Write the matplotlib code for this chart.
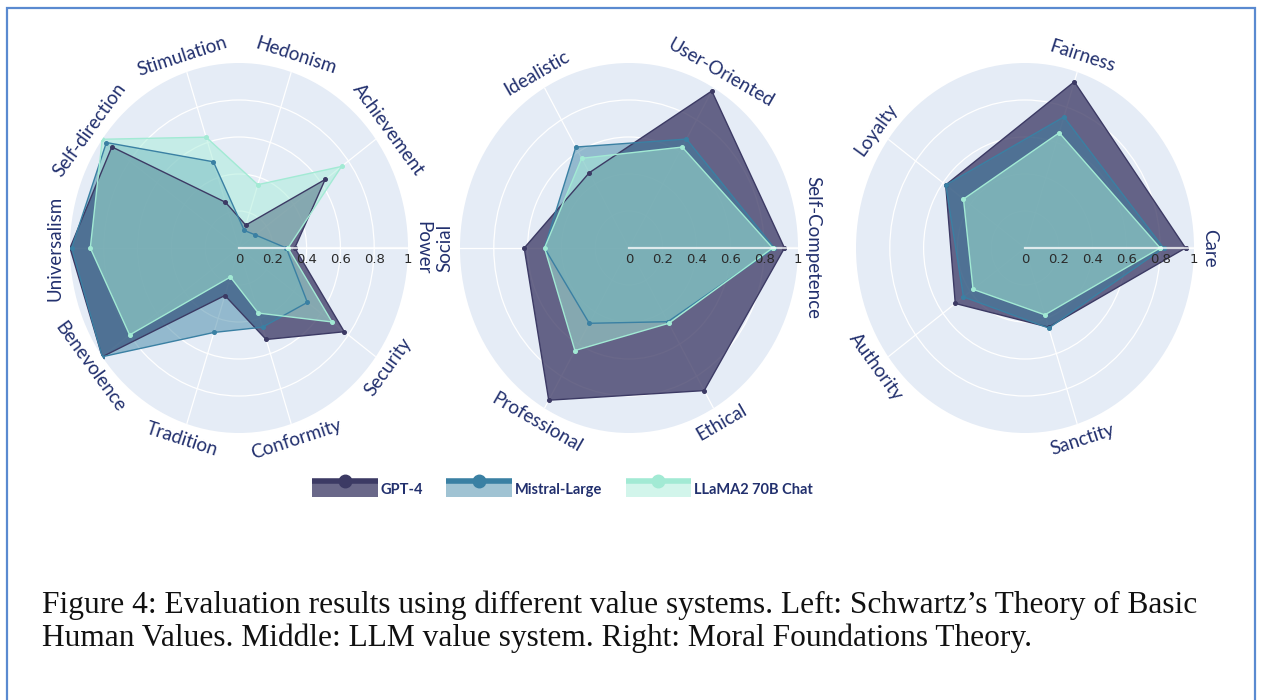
import numpy as np
import matplotlib
matplotlib.use("Agg")
import matplotlib.pyplot as plt
from matplotlib.colors import to_rgba
from matplotlib.legend_handler import HandlerBase
from matplotlib.lines import Line2D
from matplotlib.patches import Patch, Rectangle

# ---- data -------------------------------------------------------------
models = ["GPT-4", "Mistral-Large", "LLaMA2 70B Chat"]

schwartz_dims = ["Power", "Achievement", "Hedonism", "Stimulation", "Self-direction",
                 "Universalism", "Benevolence", "Tradition", "Conformity", "Security"]
schwartz_gpt4 = [0.33, 0.63, 0.13, 0.26, 0.93, 1.00, 1.00, 0.27, 0.52, 0.77]
schwartz_mistral = [0.28, 0.12, 0.10, 0.49, 0.97, 0.99, 1.00, 0.48, 0.45, 0.50]
schwartz_llama = [0.29, 0.75, 0.36, 0.63, 1.00, 0.88, 0.80, 0.165, 0.37, 0.68]

llm_dims = ["Self-Competence", "User-Oriented", "Idealistic", "Social", "Professional", "Ethical"]
llm_gpt4 = [0.92, 0.98, 0.47, 0.62, 0.95, 0.89]
llm_mistral = [0.86, 0.68, 0.63, 0.50, 0.47, 0.46]
llm_llama = [0.85, 0.63, 0.56, 0.50, 0.64, 0.47]

mft_dims = ["Care", "Fairness", "Loyalty", "Authority", "Sanctity"]
mft_gpt4 = [0.95, 0.945, 0.58, 0.51, 0.45]
mft_mistral = [0.82, 0.745, 0.58, 0.45, 0.455]
mft_llama = [0.80, 0.655, 0.45, 0.38, 0.38]

r_ticks = [0, 0.2, 0.4, 0.6, 0.8, 1]
r_tick_labels = ["0", "0.2", "0.4", "0.6", "0.8", "1"]

caption_lines = [
    "Figure 4: Evaluation results using different value systems. Left: Schwartz\u2019s Theory of Basic",
    "Human Values. Middle: LLM value system. Right: Moral Foundations Theory.",
]

# ---- style ------------------------------------------------------------
line_colors = ["#3c3a64", "#3a80a3", "#a2ead4"]
fill_colors = ["#403d68", "#3a82a3", "#a7edd9"]
fill_alpha = [0.78, 0.48, 0.5]
label_color = "#22306e"
bg = "#e5ecf6"

fig = plt.figure(figsize=(12.62, 7.0), dpi=100)
fig.patch.set_facecolor("white")

W, H = 1262, 700
rx, ry = 169, 185
centers = [239, 629, 1025]
cy = 248

panels = [
    (schwartz_dims, [schwartz_gpt4, schwartz_mistral, schwartz_llama]),
    (llm_dims, [llm_gpt4, llm_mistral, llm_llama]),
    (mft_dims, [mft_gpt4, mft_mistral, mft_llama]),
]

for cx, (dims, series) in zip(centers, panels):
    ax = fig.add_axes([(cx - rx) / W, (H - cy - ry) / H, 2 * rx / W, 2 * ry / H],
                      projection="polar")
    ax.set_aspect("auto")
    ax.set_facecolor(bg)
    ax.spines["polar"].set_visible(False)
    n = len(dims)
    theta = np.linspace(0, 2 * np.pi, n, endpoint=False)
    tt = np.append(theta, theta[0])

    for vals, lc, fc, a in zip(series, line_colors, fill_colors, fill_alpha):
        rr = np.append(vals, vals[0])
        ax.fill(tt, rr, color=fc, alpha=a, lw=0, zorder=2)
        ax.plot(tt, rr, color=lc, lw=1.0, marker="o", ms=2.6, zorder=3)

    ax.set_ylim(0, 1)
    ax.set_yticks(r_ticks[1:-1])
    ax.set_yticklabels([])
    ax.set_xticks(theta)
    ax.set_xticklabels([])
    ax.grid(True, color="white", lw=0.9)
    ax.tick_params(length=0)

    # radial axis line and its labels below it
    ax.plot(np.zeros(2), [r_ticks[0], r_ticks[-1]], color="white", alpha=0.75,
            lw=1.6, zorder=4)
    for rv, lab in zip(r_ticks, r_tick_labels):
        ax.annotate(lab, xy=(0, rv), xytext=(0, -3.5), textcoords="offset points",
                    ha="center", va="top", fontsize=9.5, color="#2a2a2a",
                    family="DejaVu Sans", zorder=6, annotation_clip=False)

    # category labels, tangent to the circle
    for ang, name in zip(theta, dims):
        deg = np.degrees(ang)
        rot = deg - 90
        if rot > 90:
            rot -= 180
        ax.text(ang, 1.09, name, rotation=rot, rotation_mode="anchor",
                ha="center", va="center", fontsize=13.5, family="Lato",
                color=label_color, clip_on=False)


# ---- legend -----------------------------------------------------------
class SwatchHandler(HandlerBase):
    def create_artists(self, legend, orig_handle, xdescent, ydescent,
                       width, height, fontsize, trans):
        x0, y0 = -xdescent, -ydescent
        edge = orig_handle.get_edgecolor()
        rect = Rectangle((x0, y0), width, height, facecolor=orig_handle.get_facecolor(),
                         edgecolor="none", transform=trans)
        top = y0 + height
        line = Line2D([x0, x0 + width], [top, top], color=edge, lw=4,
                      solid_capstyle="butt", transform=trans)
        dot = Line2D([x0 + width / 2], [top], marker="o", ms=9, color=edge,
                     transform=trans)
        return [rect, line, dot]


handles = [Patch(facecolor=to_rgba(fc, a), edgecolor=lc, label=m)
           for m, fc, a, lc in zip(models, fill_colors, fill_alpha, line_colors)]
leg = fig.legend(handles=handles, labels=models, loc="center left",
                 bbox_to_anchor=(312 / W, 1 - 489 / H), ncol=3, frameon=False,
                 handler_map={Patch: SwatchHandler()},
                 prop={"family": "Lato", "weight": "bold", "size": 10.5},
                 labelcolor=label_color, handlelength=4.5, handleheight=1.4,
                 handletextpad=0.2, columnspacing=1.6, borderpad=0, borderaxespad=0)

# ---- caption and frame ------------------------------------------------
for i, line in enumerate(caption_lines):
    fig.text(42 / W, 1 - (613 + 33 * i) / H, line, fontsize=22.6,
             family="Liberation Serif", va="baseline", ha="left", color="#111111")

fig.add_artist(Rectangle((7 / W, -0.05), (1255 - 7) / W, 1.05 - 8 / H,
                         transform=fig.transFigure, fill=False,
                         edgecolor="#5a8ad0", lw=1.6))

fig.savefig("out.png", dpi=100)
